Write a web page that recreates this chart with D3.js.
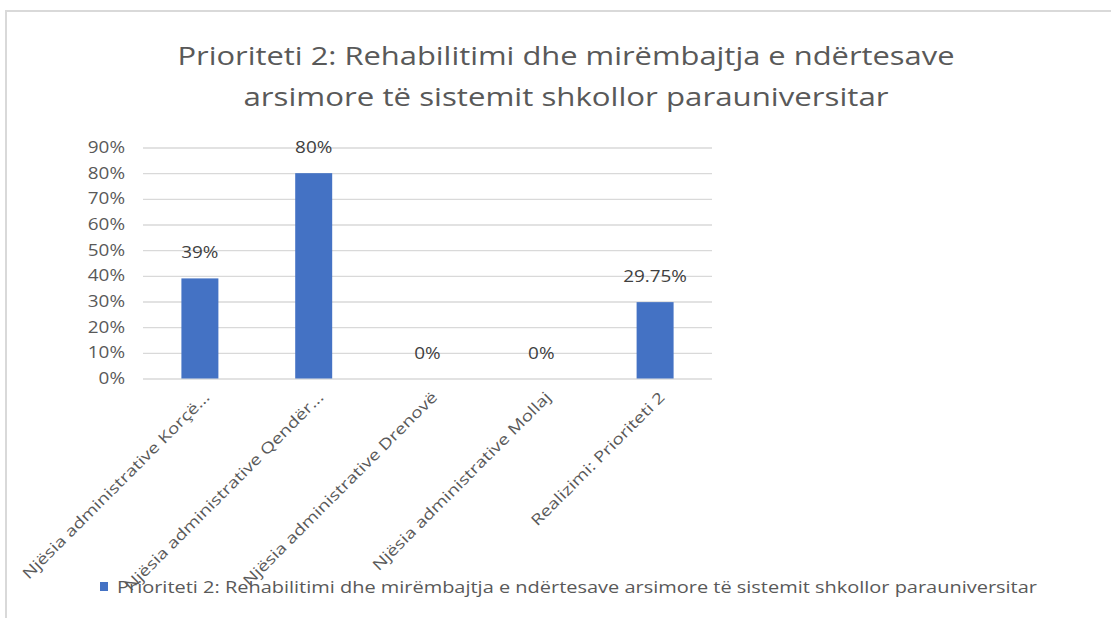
<!DOCTYPE html>
<html>
<head>
<meta charset="utf-8">
<script src="https://cdn.jsdelivr.net/npm/d3@7"></script>
<style>
html,body{margin:0;padding:0;background:#fff;}
svg{display:block;}
</style>
</head>
<body>
<svg id="chart" width="1111" height="618"></svg>
<script>
const titleLines = ["Prioriteti 2: Rehabilitimi dhe mirëmbajtja e ndërtesave", "arsimore të sistemit shkollor parauniversitar"];
const categories = ["Njësia administrative Korçë...", "Njësia administrative Qendër...", "Njësia administrative Drenovë", "Njësia administrative Mollaj", "Realizimi: Prioriteti 2"];
const values = [0.39, 0.80, 0, 0, 0.2975];
const valueLabels = ["39%", "80%", "0%", "0%", "29.75%"];
const yTicks = [0, 0.1, 0.2, 0.3, 0.4, 0.5, 0.6, 0.7, 0.8, 0.9];
const seriesName = "Prioriteti 2: Rehabilitimi dhe mirëmbajtja e ndërtesave arsimore të sistemit shkollor parauniversitar";

const FONT = "'Open Sans', 'Noto Sans', sans-serif";
const TXT = "#595959";
const BAR = "#4472C4";

const svg = d3.select("#chart");

// horizontally widen text (reference glyphs are wide)
function widen(sel, factor, target) {
  sel.each(function() {
    const len = this.getComputedTextLength();
    const t = target != null ? target : len * factor;
    d3.select(this).attr("textLength", t).attr("lengthAdjust", "spacingAndGlyphs");
  });
}

// chart border (top and left visible)
svg.append("path").attr("d", "M6,618 L6,11 L1111,11").attr("fill", "none")
  .attr("stroke", "#d9d9d9").attr("stroke-width", 2);

const plot = {left: 143, right: 712, top: 147.5, bottom: 378.5};
const x = d3.scaleBand().domain(categories).range([plot.left, plot.right]).paddingInner(0.675).paddingOuter(0.3375);
const y = d3.scaleLinear().domain([0, 0.9]).range([plot.bottom, plot.top]);

// title
const title = svg.append("text").attr("text-anchor", "middle").attr("fill", TXT)
  .style("font-family", FONT).style("font-size", "25px");
const titleWidths = [777, 645];
titleLines.forEach((t, i) => {
  const tt = svg.append("text").attr("text-anchor", "middle").attr("fill", TXT)
    .style("font-family", FONT).style("font-size", "25px")
    .attr("x", 566).attr("y", 65 + i * 41).text(t);
  widen(tt, null, titleWidths[i]);
});

// gridlines
const yAxis = d3.axisLeft(y).tickValues(yTicks).tickFormat(d3.format(".0%")).tickSize(-(plot.right - plot.left)).tickPadding(18);
const gy = svg.append("g").attr("transform", `translate(${plot.left},0)`).call(yAxis);
gy.select(".domain").remove();
gy.selectAll(".tick line").attr("stroke", "#d9d9d9").attr("stroke-width", 1.3);
gy.selectAll(".tick text").attr("fill", TXT).style("font-family", FONT).style("font-size", "16px");
widen(gy.selectAll(".tick text"), 1.18);

// x axis labels
const xAxis = d3.axisBottom(x).tickSize(0).tickPadding(0);
const gx = svg.append("g").attr("transform", `translate(0,${plot.bottom})`).call(xAxis);
gx.select(".domain").remove();
gx.selectAll(".tick text")
  .attr("fill", TXT).style("font-family", FONT).style("font-size", "15px")
  .attr("text-anchor", "end")
  .attr("dy", "0.35em")
  .attr("transform", "translate(7,16) rotate(-45)");
widen(gx.selectAll(".tick text"), 1.27);

// bars
svg.append("g").selectAll("rect").data(values).join("rect")
  .attr("x", (d, i) => x(categories[i]))
  .attr("width", x.bandwidth())
  .attr("y", d => y(d))
  .attr("height", d => y(0) - y(d))
  .attr("fill", BAR);

// value labels
const vl = svg.append("g").selectAll("text").data(values).join("text")
  .attr("x", (d, i) => x(categories[i]) + x.bandwidth() / 2)
  .attr("y", d => y(d) - 20)
  .attr("text-anchor", "middle")
  .attr("fill", "#404040").style("font-family", FONT).style("font-size", "16px")
  .text((d, i) => valueLabels[i]);
widen(vl, 1.18);

// legend
const lg = svg.append("g").attr("transform", "translate(100,582)");
lg.append("rect").attr("width", 8).attr("height", 9).attr("fill", BAR);
const lt = lg.append("text").attr("x", 17).attr("y", 11).attr("fill", TXT)
  .style("font-family", FONT).style("font-size", "15.5px").text(seriesName);
widen(lt, null, 920);
</script>
</body>
</html>
